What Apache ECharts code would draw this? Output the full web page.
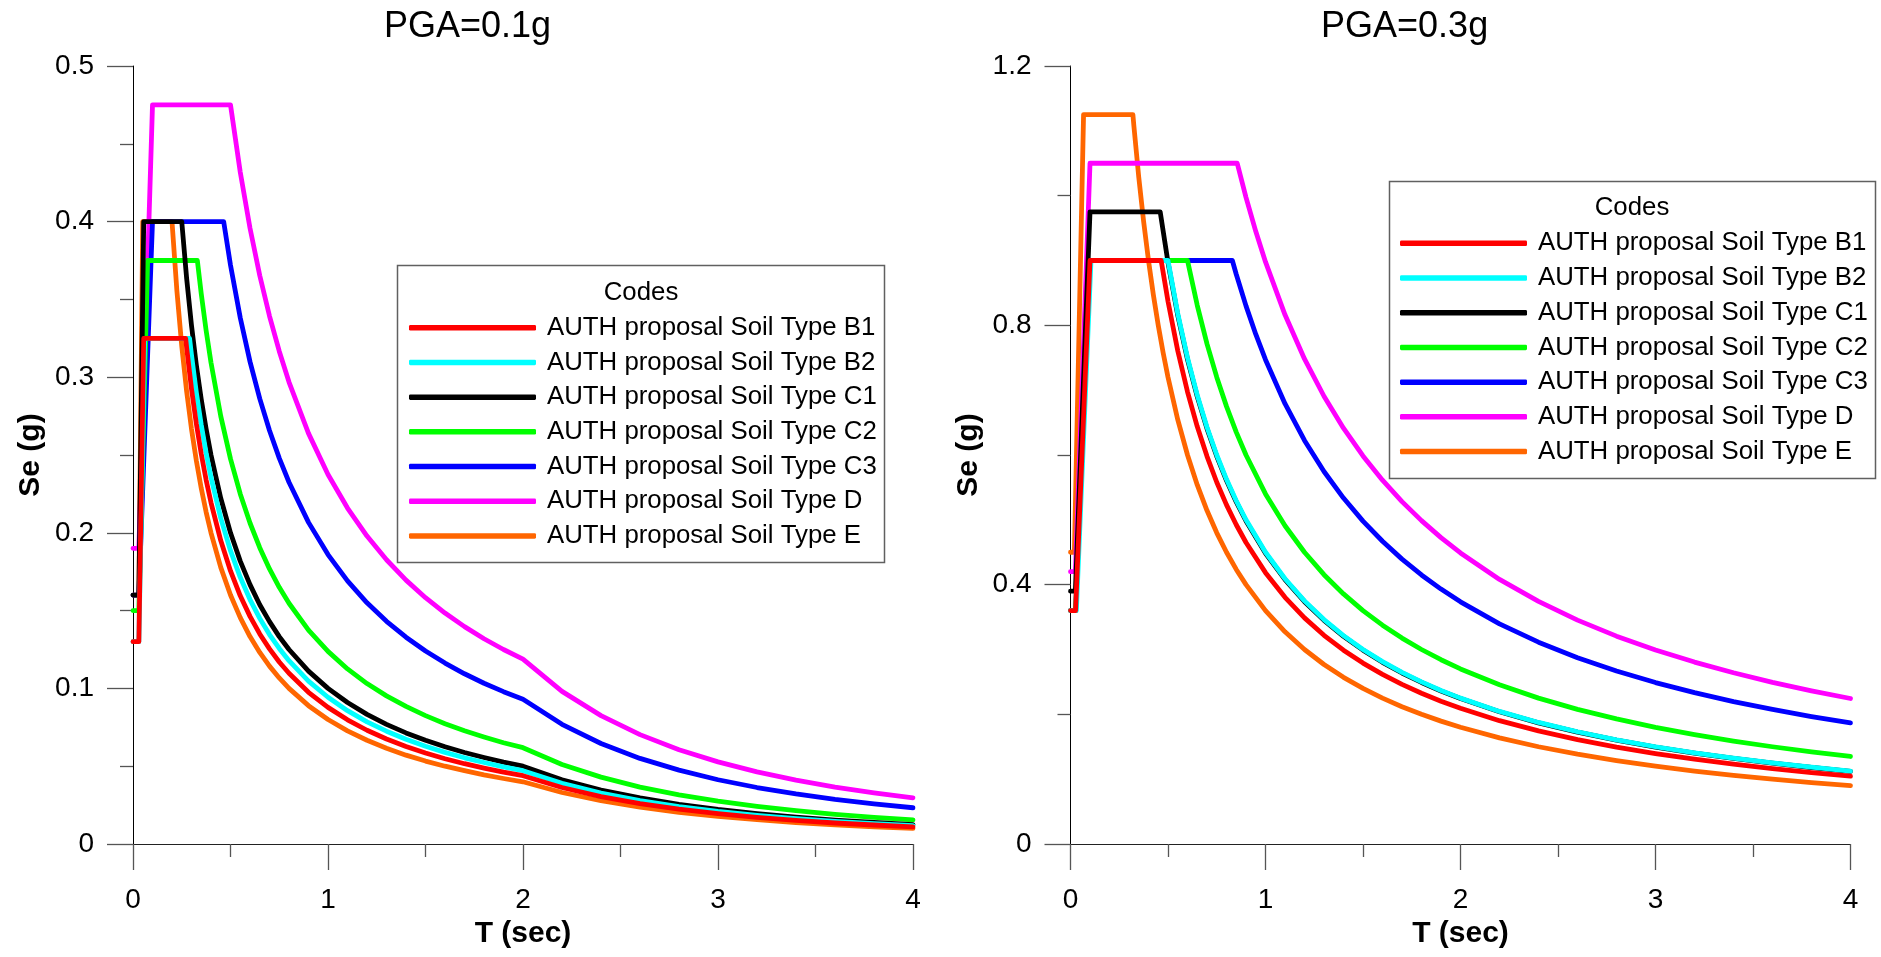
<!DOCTYPE html>
<html>
<head>
<meta charset="utf-8">
<script src="https://cdn.jsdelivr.net/npm/echarts@6/dist/echarts.min.js"></script>
<style>html,body{margin:0;padding:0;background:#fff}#c{width:1881px;height:957px}</style>
</head>
<body>
<div id="c"></div>
<script>
// ---------- data ----------
const panelTitles = ['PGA=0.1g', 'PGA=0.3g'];
const seriesNames = [
  'AUTH proposal Soil Type B1', 'AUTH proposal Soil Type B2', 'AUTH proposal Soil Type C1',
  'AUTH proposal Soil Type C2', 'AUTH proposal Soil Type C3', 'AUTH proposal Soil Type D',
  'AUTH proposal Soil Type E'
];
const seriesColors = ['#ff0000', '#00ffff', '#000000', '#00ff00', '#0000ff', '#ff00ff', '#ff6600'];
const xTicksLeft = [0, 1, 2, 3, 4];
const yTicksLeft = [0, 0.1, 0.2, 0.3, 0.4, 0.5];
const yTicksRight = [0, 0.4, 0.8, 1.2];

// PGA = 0.1g  ([T (sec), Se (g)])
const leftB1 = [[0,0.13],[0.03,0.13],[0.055,0.325],[0.27,0.325],[0.275,0.3191],[0.3,0.2925],[0.325,0.27],[0.35,0.2507],[0.375,0.234],[0.4,0.2194],[0.45,0.195],[0.5,0.1755],[0.55,0.1595],[0.6,0.1463],[0.65,0.135],[0.7,0.1254],[0.75,0.117],[0.8,0.1097],[0.9,0.0975],[1.0,0.0878],[1.1,0.0798],[1.2,0.0731],[1.3,0.0675],[1.4,0.0627],[1.5,0.0585],[1.6,0.0548],[1.7,0.0516],[1.8,0.0488],[1.9,0.0462],[2.0,0.0439],[2.2,0.0363],[2.4,0.0305],[2.6,0.026],[2.8,0.0224],[3.0,0.0195],[3.2,0.0171],[3.4,0.0152],[3.6,0.0135],[3.8,0.0122],[4.0,0.011]];
const leftB2 = [[0,0.13],[0.03,0.13],[0.06,0.325],[0.29,0.325],[0.3,0.3142],[0.325,0.29],[0.35,0.2693],[0.375,0.2513],[0.4,0.2356],[0.45,0.2094],[0.5,0.1885],[0.55,0.1714],[0.6,0.1571],[0.65,0.145],[0.7,0.1346],[0.75,0.1257],[0.8,0.1178],[0.9,0.1047],[1.0,0.0943],[1.1,0.0857],[1.2,0.0785],[1.3,0.0725],[1.4,0.0673],[1.5,0.0628],[1.6,0.0589],[1.7,0.0554],[1.8,0.0524],[1.9,0.0496],[2.0,0.0471],[2.2,0.039],[2.4,0.0327],[2.6,0.0279],[2.8,0.024],[3.0,0.0209],[3.2,0.0184],[3.4,0.0163],[3.6,0.0145],[3.8,0.0131],[4.0,0.0118]];
const leftC1 = [[0,0.16],[0.03,0.16],[0.055,0.4],[0.25,0.4],[0.275,0.3636],[0.3,0.3333],[0.325,0.3077],[0.35,0.2857],[0.375,0.2667],[0.4,0.25],[0.45,0.2222],[0.5,0.2],[0.55,0.1818],[0.6,0.1667],[0.65,0.1538],[0.7,0.1429],[0.75,0.1333],[0.8,0.125],[0.9,0.1111],[1.0,0.1],[1.1,0.0909],[1.2,0.0833],[1.3,0.0769],[1.4,0.0714],[1.5,0.0667],[1.6,0.0625],[1.7,0.0588],[1.8,0.0556],[1.9,0.0526],[2.0,0.05],[2.2,0.0413],[2.4,0.0347],[2.6,0.0296],[2.8,0.0255],[3.0,0.0222],[3.2,0.0195],[3.4,0.0173],[3.6,0.0154],[3.8,0.0139],[4.0,0.0125]];
const leftC2 = [[0,0.15],[0.03,0.15],[0.075,0.375],[0.33,0.375],[0.35,0.3536],[0.375,0.33],[0.4,0.3094],[0.45,0.275],[0.5,0.2475],[0.55,0.225],[0.6,0.2063],[0.65,0.1904],[0.7,0.1768],[0.75,0.165],[0.8,0.1547],[0.9,0.1375],[1.0,0.1238],[1.1,0.1125],[1.2,0.1031],[1.3,0.0952],[1.4,0.0884],[1.5,0.0825],[1.6,0.0773],[1.7,0.0728],[1.8,0.0688],[1.9,0.0651],[2.0,0.0619],[2.2,0.0511],[2.4,0.043],[2.6,0.0366],[2.8,0.0316],[3.0,0.0275],[3.2,0.0242],[3.4,0.0214],[3.6,0.0191],[3.8,0.0171],[4.0,0.0155]];
const leftC3 = [[0,0.16],[0.03,0.16],[0.1,0.4],[0.465,0.4],[0.5,0.372],[0.55,0.3382],[0.6,0.31],[0.65,0.2862],[0.7,0.2657],[0.75,0.248],[0.8,0.2325],[0.9,0.2067],[1.0,0.186],[1.1,0.1691],[1.2,0.155],[1.3,0.1431],[1.4,0.1329],[1.5,0.124],[1.6,0.1163],[1.7,0.1094],[1.8,0.1033],[1.9,0.0979],[2.0,0.093],[2.2,0.0769],[2.4,0.0646],[2.6,0.055],[2.8,0.0475],[3.0,0.0413],[3.2,0.0363],[3.4,0.0322],[3.6,0.0287],[3.8,0.0258],[4.0,0.0233]];
const leftD = [[0,0.19],[0.03,0.19],[0.1,0.475],[0.5,0.475],[0.55,0.4318],[0.6,0.3958],[0.65,0.3654],[0.7,0.3393],[0.75,0.3167],[0.8,0.2969],[0.9,0.2639],[1.0,0.2375],[1.1,0.2159],[1.2,0.1979],[1.3,0.1827],[1.4,0.1696],[1.5,0.1583],[1.6,0.1484],[1.7,0.1397],[1.8,0.1319],[1.9,0.125],[2.0,0.1188],[2.2,0.0981],[2.4,0.0825],[2.6,0.0703],[2.8,0.0606],[3.0,0.0528],[3.2,0.0464],[3.4,0.0411],[3.6,0.0366],[3.8,0.0329],[4.0,0.0297]];
const leftE = [[0,0.16],[0.03,0.16],[0.05,0.4],[0.2,0.4],[0.225,0.3556],[0.25,0.32],[0.275,0.2909],[0.3,0.2667],[0.325,0.2462],[0.35,0.2286],[0.375,0.2133],[0.4,0.2],[0.45,0.1778],[0.5,0.16],[0.55,0.1455],[0.6,0.1333],[0.65,0.1231],[0.7,0.1143],[0.75,0.1067],[0.8,0.1],[0.9,0.0889],[1.0,0.08],[1.1,0.0727],[1.2,0.0667],[1.3,0.0615],[1.4,0.0571],[1.5,0.0533],[1.6,0.05],[1.7,0.0471],[1.8,0.0444],[1.9,0.0421],[2.0,0.04],[2.2,0.0331],[2.4,0.0278],[2.6,0.0237],[2.8,0.0204],[3.0,0.0178],[3.2,0.0156],[3.4,0.0138],[3.6,0.0123],[3.8,0.0111],[4.0,0.01]];

// PGA = 0.3g
const rightB1 = [[0,0.36],[0.026,0.36],[0.1,0.9],[0.465,0.9],[0.5,0.837],[0.55,0.7609],[0.6,0.6975],[0.65,0.6438],[0.7,0.5979],[0.75,0.558],[0.8,0.5231],[0.85,0.4924],[0.9,0.465],[1.0,0.4185],[1.1,0.3805],[1.2,0.3488],[1.3,0.3219],[1.4,0.2989],[1.5,0.279],[1.6,0.2616],[1.7,0.2462],[1.8,0.2325],[1.9,0.2203],[2.0,0.2093],[2.2,0.1902],[2.4,0.1744],[2.6,0.161],[2.8,0.1495],[3.0,0.1395],[3.2,0.1308],[3.4,0.1231],[3.6,0.1163],[3.8,0.1101],[4.0,0.1046]];
const rightB2 = [[0,0.36],[0.03,0.36],[0.105,0.9],[0.5,0.9],[0.55,0.8182],[0.6,0.75],[0.65,0.6923],[0.7,0.6429],[0.75,0.6],[0.8,0.5625],[0.85,0.5294],[0.9,0.5],[1.0,0.45],[1.1,0.4091],[1.2,0.375],[1.3,0.3462],[1.4,0.3214],[1.5,0.3],[1.6,0.2813],[1.7,0.2647],[1.8,0.25],[1.9,0.2368],[2.0,0.225],[2.2,0.2045],[2.4,0.1875],[2.6,0.1731],[2.8,0.1607],[3.0,0.15],[3.2,0.1406],[3.4,0.1324],[3.6,0.125],[3.8,0.1184],[4.0,0.1125]];
const rightC1 = [[0,0.39],[0.025,0.39],[0.1,0.975],[0.46,0.975],[0.5,0.897],[0.55,0.8155],[0.6,0.7475],[0.65,0.69],[0.7,0.6407],[0.75,0.598],[0.8,0.5606],[0.85,0.5276],[0.9,0.4983],[1.0,0.4485],[1.1,0.4077],[1.2,0.3738],[1.3,0.345],[1.4,0.3204],[1.5,0.299],[1.6,0.2803],[1.7,0.2638],[1.8,0.2492],[1.9,0.2361],[2.0,0.2243],[2.2,0.2039],[2.4,0.1869],[2.6,0.1725],[2.8,0.1602],[3.0,0.1495],[3.2,0.1402],[3.4,0.1319],[3.6,0.1246],[3.8,0.118],[4.0,0.1121]];
const rightC2 = [[0,0.36],[0.026,0.36],[0.1,0.9],[0.6,0.9],[0.65,0.8308],[0.7,0.7714],[0.75,0.72],[0.8,0.675],[0.85,0.6353],[0.9,0.6],[1.0,0.54],[1.1,0.4909],[1.2,0.45],[1.3,0.4154],[1.4,0.3857],[1.5,0.36],[1.6,0.3375],[1.7,0.3176],[1.8,0.3],[1.9,0.2842],[2.0,0.27],[2.2,0.2455],[2.4,0.225],[2.6,0.2077],[2.8,0.1929],[3.0,0.18],[3.2,0.1688],[3.4,0.1588],[3.6,0.15],[3.8,0.1421],[4.0,0.135]];
const rightC3 = [[0,0.36],[0.026,0.36],[0.1,0.9],[0.83,0.9],[0.85,0.8788],[0.9,0.83],[0.95,0.7863],[1.0,0.747],[1.1,0.6791],[1.2,0.6225],[1.3,0.5746],[1.4,0.5336],[1.5,0.498],[1.6,0.4669],[1.7,0.4394],[1.8,0.415],[1.9,0.3932],[2.0,0.3735],[2.2,0.3395],[2.4,0.3113],[2.6,0.2873],[2.8,0.2668],[3.0,0.249],[3.2,0.2334],[3.4,0.2197],[3.6,0.2075],[3.8,0.1966],[4.0,0.1868]];
const rightD = [[0,0.42],[0.025,0.42],[0.1,1.05],[0.855,1.05],[0.9,0.9975],[0.95,0.945],[1.0,0.8978],[1.1,0.8162],[1.2,0.7481],[1.3,0.6906],[1.4,0.6413],[1.5,0.5985],[1.6,0.5611],[1.7,0.5281],[1.8,0.4988],[1.9,0.4725],[2.0,0.4489],[2.2,0.4081],[2.4,0.3741],[2.6,0.3453],[2.8,0.3206],[3.0,0.2993],[3.2,0.2806],[3.4,0.2641],[3.6,0.2494],[3.8,0.2363],[4.0,0.2244]];
const rightE = [[0,0.45],[0.02,0.45],[0.067,1.125],[0.32,1.125],[0.325,1.1077],[0.35,1.0286],[0.375,0.96],[0.4,0.9],[0.425,0.8471],[0.45,0.8],[0.475,0.7579],[0.5,0.72],[0.55,0.6545],[0.6,0.6],[0.65,0.5538],[0.7,0.5143],[0.75,0.48],[0.8,0.45],[0.85,0.4235],[0.9,0.4],[1.0,0.36],[1.1,0.3273],[1.2,0.3],[1.3,0.2769],[1.4,0.2571],[1.5,0.24],[1.6,0.225],[1.7,0.2118],[1.8,0.2],[1.9,0.1895],[2.0,0.18],[2.2,0.1636],[2.4,0.15],[2.6,0.1385],[2.8,0.1286],[3.0,0.12],[3.2,0.1125],[3.4,0.1059],[3.6,0.1],[3.8,0.0947],[4.0,0.09]];

// ---------- chart ----------
const FONT = '"Liberation Sans", Arial, Helvetica, sans-serif';
const leftData = [leftB1, leftB2, leftC1, leftC2, leftC3, leftD, leftE];
const rightData = [rightB1, rightB2, rightC1, rightC2, rightC3, rightD, rightE];

function makeSeries(dataList, idx) {
  const out = [];
  // drawn last-to-first so that B1 ends up on top (as in the reference)
  for (let i = dataList.length - 1; i >= 0; i--) {
    out.push({
      type: 'line', name: seriesNames[i], xAxisIndex: idx, yAxisIndex: idx,
      data: dataList[i], showSymbol: false, symbol: 'none', smooth: false,
      color: seriesColors[i],
      lineStyle: { color: seriesColors[i], width: 4.8, cap: 'round', join: 'round' },
      emphasis: { disabled: true }, animation: false
    });
  }
  return out;
}

function xAxis(idx) {
  return {
    gridIndex: idx, type: 'value', min: 0, max: 4, interval: 1,
    name: 'T (sec)', nameLocation: 'middle', nameGap: 75,
    nameTextStyle: { fontFamily: FONT, fontSize: 30, fontWeight: 'bold', color: '#000' },
    axisLine: { show: true, onZero: false, lineStyle: { color: '#222', width: 1 } },
    axisTick: { show: true, inside: false, length: 26, lineStyle: { color: '#555', width: 1.3 } },
    minorTick: { show: true, splitNumber: 2, length: 13, lineStyle: { color: '#555', width: 1.3 } },
    splitLine: { show: false }, minorSplitLine: { show: false },
    axisLabel: { margin: 42, fontFamily: FONT, fontSize: 28, color: '#000' }
  };
}
function yAxis(idx, max, interval) {
  return {
    gridIndex: idx, type: 'value', min: 0, max: max, interval: interval,
    name: 'Se (g)', nameLocation: 'middle', nameGap: 87,
    nameTextStyle: { fontFamily: FONT, fontSize: 30, fontWeight: 'bold', color: '#000' },
    axisLine: { show: true, onZero: false, lineStyle: { color: '#000', width: 1 } },
    axisTick: { show: true, inside: false, length: 26, lineStyle: { color: '#555', width: 1.3 } },
    minorTick: { show: true, splitNumber: 2, length: 13, lineStyle: { color: '#555', width: 1.3 } },
    splitLine: { show: false }, minorSplitLine: { show: false },
    axisLabel: { margin: 39, fontFamily: FONT, fontSize: 28, color: '#000' }
  };
}
function legend(left, top) {
  return {
    data: seriesNames.slice(), orient: 'vertical', left: left, top: top,
    padding: 0, itemGap: 0, itemWidth: 127, itemHeight: 5.5, icon: 'roundRect',
    selectedMode: false,
    textStyle: { fontFamily: FONT, fontSize: 25.8, color: '#000', lineHeight: 34.7, padding: [0, 0, 0, 6] }
  };
}

const chart = echarts.init(document.getElementById('c'), null, { renderer: 'canvas' });
chart.setOption({
  backgroundColor: '#fff',
  animation: false,
  grid: [
    { left: 133, top: 66, width: 780, height: 778 },
    { left: 1070.5, top: 66, width: 780, height: 778 }
  ],
  xAxis: [xAxis(0), xAxis(1)],
  yAxis: [yAxis(0, yTicksLeft[yTicksLeft.length - 1], 0.1), yAxis(1, yTicksRight[yTicksRight.length - 1], 0.4)],
  legend: [legend(409, 310.4), legend(1400, 226)],
  graphic: [
    { type: 'rect', z: 3, shape: { x: 397.5, y: 265.5, width: 487, height: 297 },
      style: { fill: '#fff', stroke: '#606060', lineWidth: 1.5 } },
    { type: 'rect', z: 3, shape: { x: 1389.5, y: 181.5, width: 486, height: 297 },
      style: { fill: '#fff', stroke: '#606060', lineWidth: 1.5 } },
    { type: 'text', z: 5, x: 641, y: 292.7,
      style: { text: 'Codes', fontFamily: FONT, fontSize: 25.8, fill: '#000', align: 'center', verticalAlign: 'middle' } },
    { type: 'text', z: 5, x: 1632, y: 208.3,
      style: { text: 'Codes', fontFamily: FONT, fontSize: 25.8, fill: '#000', align: 'center', verticalAlign: 'middle' } },
    { type: 'text', z: 5, x: 467.5, y: 26.8,
      style: { text: panelTitles[0], fontFamily: FONT, fontSize: 36, fill: '#000', align: 'center', verticalAlign: 'middle' } },
    { type: 'text', z: 5, x: 1404.6, y: 26.8,
      style: { text: panelTitles[1], fontFamily: FONT, fontSize: 36, fill: '#000', align: 'center', verticalAlign: 'middle' } }
  ],
  series: makeSeries(leftData, 0).concat(makeSeries(rightData, 1))
});
</script>
</body>
</html>
